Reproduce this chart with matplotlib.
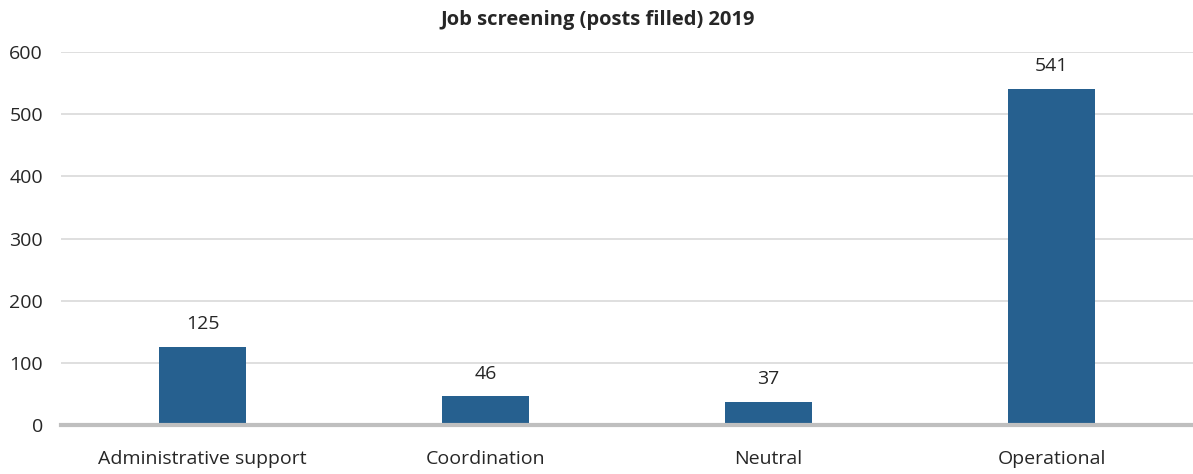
import matplotlib
matplotlib.use("Agg")
import matplotlib.pyplot as plt

categories = ["Administrative support", "Coordination", "Neutral", "Operational"]
values = [125, 46, 37, 541]
yticks = [0, 100, 200, 300, 400, 500, 600]
title = "Job screening (posts filled) 2019"

plt.rcParams['font.family'] = ['Open Sans', 'DejaVu Sans']

fig = plt.figure(figsize=(11.93, 4.74), dpi=100)
ax = fig.add_axes([61/1193, 49/474, 1 - 61/1193, (425-52)/474])

x = range(len(categories))
ax.bar(x, values, width=0.31, color="#26608f", zorder=3)
for xi, v in zip(x, values):
    ax.annotate(str(v), (xi, v), xytext=(0, 10), textcoords="offset points",
                ha="center", va="bottom", fontsize=14, color="#262626")

ax.set_xlim(-0.5, len(categories) - 0.5)
ax.set_ylim(0, 600)
ax.set_yticks(yticks)
ax.set_yticklabels([str(t) for t in yticks], fontsize=14, color="#262626")
ax.set_xticks(list(x))
ax.set_xticklabels(categories, fontsize=14, color="#262626")
ax.tick_params(axis="both", length=0)
ax.tick_params(axis="y", pad=13)
ax.tick_params(axis="x", pad=18)
ax.grid(axis="y", color="#d9d9d9", linewidth=1.2, zorder=0)
for s in ["top", "right", "left"]:
    ax.spines[s].set_visible(False)
ax.spines["bottom"].set_color("#bfbfbf")
ax.spines["bottom"].set_linewidth(3)
ax.spines["bottom"].set_zorder(4)

fig.text(598/1193, 1 - 20/474, title, ha="center", va="center", fontsize=14.5, fontweight="bold", color="#262626")

fig.savefig("out.png", dpi=100)
